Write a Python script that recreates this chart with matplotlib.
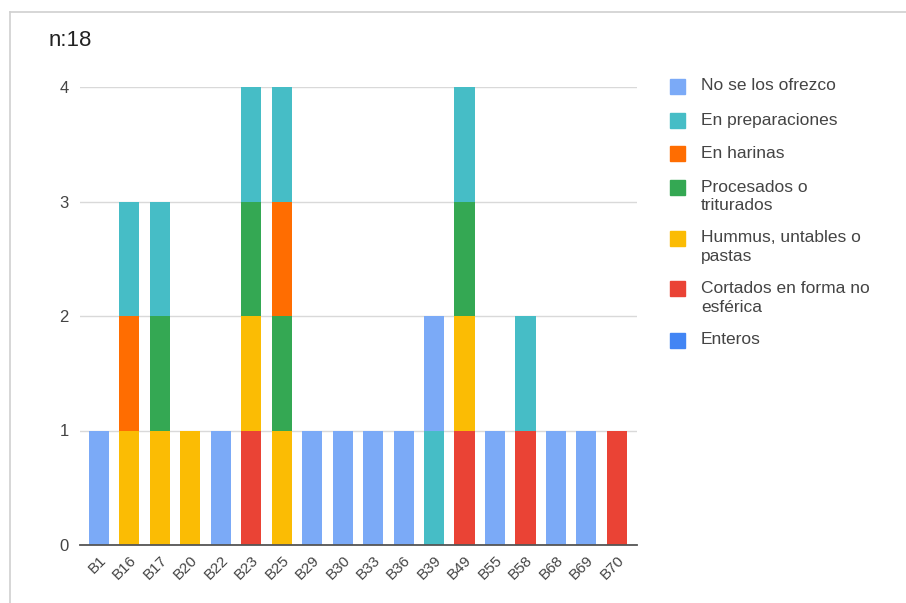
import numpy as np
import matplotlib.pyplot as plt
from matplotlib.patches import Rectangle
from matplotlib.lines import Line2D

plt.rcParams['font.family'] = ['Liberation Sans', 'DejaVu Sans']

categories = ['B1', 'B16', 'B17', 'B20', 'B22', 'B23', 'B25', 'B29', 'B30',
              'B33', 'B36', 'B39', 'B49', 'B55', 'B58', 'B68', 'B69', 'B70']

# stacked bottom to top
enteros       = [0, 0, 0, 0, 0, 0, 0, 0, 0, 0, 0, 0, 0, 0, 0, 0, 0, 0]
cortados      = [0, 0, 0, 0, 0, 1, 0, 0, 0, 0, 0, 0, 1, 0, 1, 0, 0, 1]
hummus        = [0, 1, 1, 1, 0, 1, 1, 0, 0, 0, 0, 0, 1, 0, 0, 0, 0, 0]
procesados    = [0, 0, 1, 0, 0, 1, 1, 0, 0, 0, 0, 0, 1, 0, 0, 0, 0, 0]
harinas       = [0, 1, 0, 0, 0, 0, 1, 0, 0, 0, 0, 0, 0, 0, 0, 0, 0, 0]
preparaciones = [0, 1, 1, 0, 0, 1, 1, 0, 0, 0, 0, 1, 1, 0, 1, 0, 0, 0]
no_ofrezco    = [1, 0, 0, 0, 1, 0, 0, 1, 1, 1, 1, 1, 0, 1, 0, 1, 1, 0]

series = [
    ('Enteros', enteros, '#4285F4'),
    ('Cortados en forma no\nesférica', cortados, '#EA4335'),
    ('Hummus, untables o\npastas', hummus, '#FBBC04'),
    ('Procesados o\ntriturados', procesados, '#34A853'),
    ('En harinas', harinas, '#FF6D01'),
    ('En preparaciones', preparaciones, '#46BDC6'),
    ('No se los ofrezco', no_ofrezco, '#7BAAF7'),
]

W, H = 906, 603
fig = plt.figure(figsize=(W / 100, H / 100), dpi=100)
ax = fig.add_axes([80 / W, (H - 545) / H, 557 / W, 458 / H])

x = np.arange(len(categories))
bottom = np.zeros(len(categories))
for name, vals, color in series:
    vals = np.array(vals, dtype=float)
    ax.bar(x, vals, width=0.66, bottom=bottom, color=color, zorder=3)
    bottom += vals

ax.set_xlim(-0.62, 17.66)
ax.set_ylim(0, 4)
ax.set_yticks([0, 1, 2, 3, 4])
ax.grid(axis='y', color='#d9d9d9', linewidth=1, zorder=0)
for s in ['top', 'right', 'left']:
    ax.spines[s].set_visible(False)
ax.spines['bottom'].set_color('#555555')
ax.spines['bottom'].set_linewidth(1.3)
ax.spines['bottom'].set_zorder(4)
ax.tick_params(axis='both', length=0, labelcolor='#444444')
ax.tick_params(axis='y', pad=8, labelsize=12)
ax.set_xticks(x)
ax.set_xticklabels(categories, rotation=45, ha='right', va='top',
                   rotation_mode='anchor')
ax.tick_params(axis='x', pad=6, labelsize=11)

fig.text(49 / W, 1 - 40 / H, 'n:18', fontsize=16, color='#222222',
         va='center', ha='left')

# legend, top entry first; the swatch sits beside the first line
rows = [86, 120, 153, 187, 238, 289, 340]
for (name, vals, color), yy in zip(reversed(series), rows):
    fig.patches.append(Rectangle((670 / W, 1 - (yy + 7.5) / H), 15 / W, 15 / H,
                                 transform=fig.transFigure, color=color))
    for i, line in enumerate(name.split('\n')):
        fig.text(701 / W, 1 - (yy + i * 18) / H, line, fontsize=12.5,
                 color='#444444', va='center', ha='left')

# outer frame
fig.add_artist(Line2D([10 / W, 1], [1 - 12 / H, 1 - 12 / H],
                      transform=fig.transFigure, color='#d0d0d0', lw=1.2))
fig.add_artist(Line2D([10 / W, 10 / W], [0, 1 - 12 / H],
                      transform=fig.transFigure, color='#d0d0d0', lw=1.2))

fig.savefig('out.png', dpi=100)
